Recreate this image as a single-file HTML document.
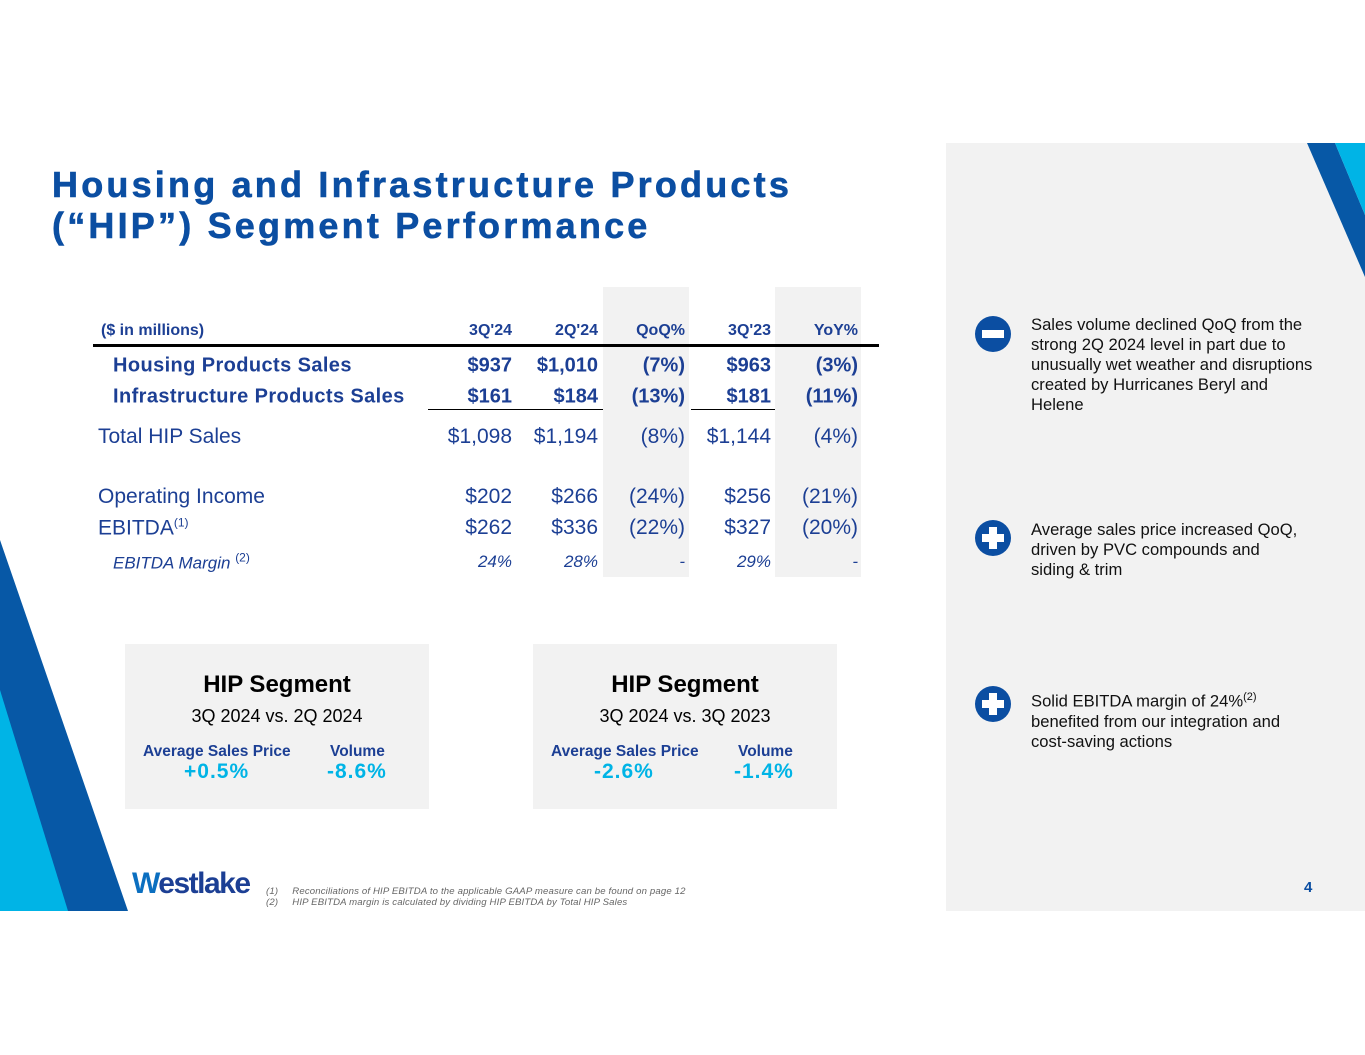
<!DOCTYPE html>
<html><head><meta charset="utf-8">
<style>
body{margin:0;width:1365px;height:1055px;background:#fff;position:relative;overflow:hidden;font-family:"Liberation Sans",Arial,sans-serif;}
.a{position:absolute;white-space:nowrap;}
.nv{color:#1c3f94;}
.c{position:absolute;transform:translateY(-50%);text-align:right;}
</style></head><body>
<div class="a" style="left:946px;top:143px;width:419px;height:768px;background:#f2f2f2"></div>
<svg class="a" style="left:0;top:0" width="1365" height="1055">
<polygon points="0,540 128,911 0,911" fill="#0758a6"/>
<polygon points="0,690 68,911 0,911" fill="#00b4e6"/>
<polygon points="1307,143 1335,143 1365,215 1365,277" fill="#0758a6"/>
<polygon points="1335,143 1365,143 1365,215" fill="#00b4e6"/>
</svg>
<div class="a" style="left:52px;top:164px;font-size:36px;font-weight:bold;color:#0b4ea2;line-height:41px;letter-spacing:3.2px;-webkit-text-stroke:0.6px #0b4ea2">Housing and Infrastructure Products<br>(“HIP”) Segment Performance</div>

<div class="a" style="left:603px;top:287px;width:86px;height:290px;background:#f2f2f2"></div>
<div class="a" style="left:775px;top:287px;width:86px;height:290px;background:#f2f2f2"></div>
<div class="a" style="left:93px;top:344px;width:786px;height:3px;background:#000"></div>
<div class="a" style="left:428px;top:409px;width:175px;height:1px;background:#000"></div>
<div class="a" style="left:691px;top:409px;width:84px;height:1px;background:#000"></div>

<div id="tbl"></div>
<script>
const rows=[
 {l:"($ in millions)",v:["3Q'24","2Q'24","QoQ%","3Q'23","YoY%"],y:331,fs:16,lx:101,st:"font-weight:bold"},
 {l:"Housing Products Sales",v:["$937","$1,010","(7%)","$963","(3%)"],y:366,fs:20,lx:113,st:"font-weight:bold;letter-spacing:0.4px"},
 {l:"Infrastructure Products Sales",v:["$161","$184","(13%)","$181","(11%)"],y:397,fs:20,lx:113,st:"font-weight:bold;letter-spacing:0.4px"},
 {l:"Total HIP Sales",v:["$1,098","$1,194","(8%)","$1,144","(4%)"],y:437,fs:21,lx:98,st:""},
 {l:"Operating Income",v:["$202","$266","(24%)","$256","(21%)"],y:497,fs:21,lx:98,st:""},
 {l:"EBITDA<sup style='font-size:12px'>(1)</sup>",v:["$262","$336","(22%)","$327","(20%)"],y:528,fs:21,lx:98,st:""},
 {l:"EBITDA Margin <sup style='font-size:12px;font-style:normal'>(2)</sup>",v:["24%","28%","-","29%","-"],y:562,fs:17,lx:113,st:"font-style:italic"}
];
const cols=[512,598,685,771,858];
const t=document.getElementById('tbl');
rows.forEach((r,i)=>{
 const d=document.createElement('div');d.className='c nv';d.style.cssText+=`left:${r.lx}px;top:${r.y}px;font-size:${r.fs}px;${r.st}`;d.innerHTML=r.l;
 
 
 t.appendChild(d);
 r.v.forEach((v,j)=>{const e=document.createElement('div');e.className='c nv';e.style.cssText+=`right:${1365-cols[j]}px;top:${r.y}px;font-size:${r.fs}px;${r.st};letter-spacing:0`;e.textContent=v;
 
 
 t.appendChild(e);});
});
</script>

<div class="a" style="left:125px;top:644px;width:304px;height:165px;background:#f2f2f2;text-align:center">
<div style="position:absolute;top:27px;width:100%;font-size:24px;font-weight:bold;color:#000">HIP Segment</div>
<div style="position:absolute;top:62px;width:100%;font-size:18px;color:#000">3Q 2024 vs. 2Q 2024</div>
<div style="position:absolute;left:18px;top:99px;font-size:15.5px;font-weight:bold;color:#1c3f94">Average Sales Price</div>
<div style="position:absolute;left:205px;top:99px;font-size:15.5px;font-weight:bold;color:#1c3f94">Volume</div>
<div style="position:absolute;left:59px;top:116px;font-size:21px;font-weight:bold;color:#00b4e6;letter-spacing:1px">+0.5%</div>
<div style="position:absolute;left:202px;top:116px;font-size:21px;font-weight:bold;color:#00b4e6;letter-spacing:1px">-8.6%</div>
</div>
<div class="a" style="left:533px;top:644px;width:304px;height:165px;background:#f2f2f2;text-align:center">
<div style="position:absolute;top:27px;width:100%;font-size:24px;font-weight:bold;color:#000">HIP Segment</div>
<div style="position:absolute;top:62px;width:100%;font-size:18px;color:#000">3Q 2024 vs. 3Q 2023</div>
<div style="position:absolute;left:18px;top:99px;font-size:15.5px;font-weight:bold;color:#1c3f94">Average Sales Price</div>
<div style="position:absolute;left:205px;top:99px;font-size:15.5px;font-weight:bold;color:#1c3f94">Volume</div>
<div style="position:absolute;left:61px;top:116px;font-size:21px;font-weight:bold;color:#00b4e6;letter-spacing:1px">-2.6%</div>
<div style="position:absolute;left:201px;top:116px;font-size:21px;font-weight:bold;color:#00b4e6;letter-spacing:1px">-1.4%</div>
</div>

<svg class="a" style="left:975px;top:316px" width="36" height="36"><circle cx="18" cy="18" r="18" fill="#0b4ea2"/><rect x="7" y="14" width="22" height="8" fill="#fff"/></svg>
<svg class="a" style="left:975px;top:520px" width="36" height="36"><circle cx="18" cy="18" r="18" fill="#0b4ea2"/><rect x="7" y="14" width="22" height="8" fill="#fff"/><rect x="14" y="7" width="8" height="22" fill="#fff"/></svg>
<svg class="a" style="left:975px;top:686px" width="36" height="36"><circle cx="18" cy="18" r="18" fill="#0b4ea2"/><rect x="7" y="14" width="22" height="8" fill="#fff"/><rect x="14" y="7" width="8" height="22" fill="#fff"/></svg>
<div class="a" style="left:1031px;top:315px;font-size:16.6px;line-height:20px;color:#111">Sales volume declined QoQ from the<br>strong 2Q 2024 level in part due to<br>unusually wet weather and disruptions<br>created by Hurricanes Beryl and<br>Helene</div>
<div class="a" style="left:1031px;top:520px;font-size:16.6px;line-height:20px;color:#111">Average sales price increased QoQ,<br>driven by PVC compounds and<br>siding &amp; trim</div>
<div class="a" style="left:1031px;top:687px;font-size:16.6px;line-height:20px;color:#111">Solid EBITDA margin of 24%<sup style="font-size:11px">(2)</sup><br>benefited from our integration and<br>cost-saving actions</div>

<div class="a" style="left:132px;top:867px;font-size:30px;font-weight:bold;color:#1c3f94;letter-spacing:-1.5px"><span style="color:#0b6fc0">W</span>estlake</div>
<div class="a" style="left:266px;top:886px;font-size:9.6px;line-height:11px;color:#666;font-style:italic;letter-spacing:0.15px">(1)&nbsp;&nbsp;&nbsp;&nbsp;&nbsp;Reconciliations of HIP EBITDA to the applicable GAAP measure can be found on page 12<br>(2)&nbsp;&nbsp;&nbsp;&nbsp;&nbsp;HIP EBITDA margin is calculated by dividing HIP EBITDA by Total HIP Sales</div>
<div class="a" style="left:1304px;top:879px;font-size:15px;font-weight:bold;color:#0b4ea2">4</div>
</body></html>
